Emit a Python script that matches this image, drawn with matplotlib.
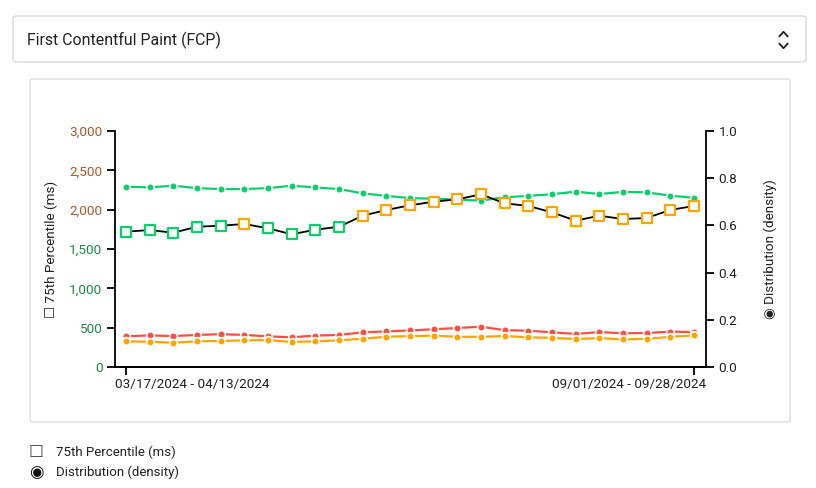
import matplotlib
matplotlib.use("Agg")
from matplotlib import pyplot as plt
from matplotlib.patches import FancyBboxPatch
from matplotlib.lines import Line2D
from matplotlib.transforms import ScaledTranslation

plt.rcParams['font.family'] = ['Roboto', 'DejaVu Sans']

# weekly 28-day windows, 03/17/2024 - 04/13/2024 ... 09/01/2024 - 09/28/2024
periods = ["03/17/2024 - 04/13/2024", "03/24/2024 - 04/20/2024", "03/31/2024 - 04/27/2024",
           "04/07/2024 - 05/04/2024", "04/14/2024 - 05/11/2024", "04/21/2024 - 05/18/2024",
           "04/28/2024 - 05/25/2024", "05/05/2024 - 06/01/2024", "05/12/2024 - 06/08/2024",
           "05/19/2024 - 06/15/2024", "05/26/2024 - 06/22/2024", "06/02/2024 - 06/29/2024",
           "06/09/2024 - 07/06/2024", "06/16/2024 - 07/13/2024", "06/23/2024 - 07/20/2024",
           "06/30/2024 - 07/27/2024", "07/07/2024 - 08/03/2024", "07/14/2024 - 08/10/2024",
           "07/21/2024 - 08/17/2024", "07/28/2024 - 08/24/2024", "08/04/2024 - 08/31/2024",
           "08/11/2024 - 09/07/2024", "08/18/2024 - 09/14/2024", "08/25/2024 - 09/21/2024",
           "09/01/2024 - 09/28/2024"]

p75_ms = [1720, 1741, 1707, 1783, 1796, 1818, 1763, 1687, 1745, 1783, 1923, 1996, 2055,
          2101, 2131, 2195, 2081, 2047, 1966, 1860, 1923, 1881, 1894, 1996, 2047]

good_density = [0.764, 0.761, 0.768, 0.758, 0.754, 0.754, 0.758, 0.768, 0.761, 0.754, 0.736,
                0.725, 0.716, 0.713, 0.709, 0.705, 0.719, 0.725, 0.732, 0.743, 0.733, 0.742,
                0.740, 0.726, 0.717]
red_density = [0.130, 0.134, 0.131, 0.136, 0.139, 0.136, 0.130, 0.126, 0.133, 0.136, 0.147,
               0.151, 0.155, 0.160, 0.165, 0.171, 0.156, 0.154, 0.147, 0.140, 0.148, 0.143,
               0.144, 0.150, 0.148]
orange_density = [0.109, 0.107, 0.103, 0.109, 0.110, 0.113, 0.114, 0.106, 0.109, 0.113, 0.120,
                  0.128, 0.131, 0.133, 0.128, 0.128, 0.131, 0.126, 0.123, 0.119, 0.122, 0.117,
                  0.119, 0.128, 0.134]

good_threshold = 1800
left_ticks = [0, 500, 1000, 1500, 2000, 2500, 3000]

GREEN = '#0cce6b'
ORANGE = '#ffa400'
RED = '#ff4e42'
TXT = '#202124'

fig = plt.figure(figsize=(8.16, 4.88), dpi=100)

# dropdown box and card frame (outline only, behind the axes)
fig.patches.append(FancyBboxPatch((13 / 816, 1 - 62 / 488), 793 / 816, 46 / 488,
                                  boxstyle='round,pad=0,rounding_size=0.005',
                                  transform=fig.transFigure, fc='none', ec='#d9d9d9', lw=1,
                                  zorder=-1))
fig.patches.append(FancyBboxPatch((30 / 816, 1 - 422 / 488), 760 / 816, 343 / 488,
                                  boxstyle='round,pad=0,rounding_size=0.004',
                                  transform=fig.transFigure, fc='none', ec='#dddddd', lw=1,
                                  zorder=-1))
fig.text(27 / 816, 1 - 40 / 488, 'First Contentful Paint (FCP)', fontsize=11.4,
         va='center', ha='left', color=TXT)
# up/down chevron
for y0, d in ((34, 1), (46, -1)):
    fig.lines.append(Line2D([779.5 / 816, 783.5 / 816, 787.5 / 816],
                            [1 - (y0 + 2.2 * d) / 488, 1 - (y0 - 2.2 * d) / 488,
                             1 - (y0 + 2.2 * d) / 488],
                            transform=fig.transFigure, color=TXT, lw=1.3))

ax = fig.add_axes([115 / 816, 1 - 367 / 488, 591 / 816, 236 / 488])
ax2 = ax.twinx()

x = list(range(len(periods)))

# density lines on the right axis
for vals, col in ((good_density, GREEN), (red_density, RED), (orange_density, ORANGE)):
    ax2.plot(x, vals, color=col, lw=1.6, marker='o', ms=5.5, mfc=col,
             mec='white', mew=1.2, zorder=2)
ax2.set_ylim(0, 1.0)

# p75 line on the left axis, squares coloured by threshold
ax.set_zorder(ax2.get_zorder() + 1)
ax.patch.set_visible(False)
ax.plot(x, p75_ms, color='black', lw=1.3, zorder=3)
sq_cols = [GREEN if v < good_threshold else ORANGE for v in p75_ms]
ax.scatter(x, p75_ms, marker='s', s=52, facecolor='white', edgecolor=sq_cols,
           linewidths=1.6, zorder=4)
ax.set_ylim(0, 3000)
ax.set_xlim(-0.465, 24.51)

ax.set_yticks(left_ticks)
ax.set_yticklabels([f'{v:,}' for v in left_ticks], fontsize=9.7)
for lab, v in zip(ax.get_yticklabels(), left_ticks):
    lab.set_color('#a8582a' if v >= 2000 else '#1a8a45')
ax.tick_params(axis='y', length=6, width=1.3, pad=3)

ax.set_xticks([0, len(periods) - 1])
ax.set_xticklabels([periods[0], periods[-1]], fontsize=9.7, color=TXT)
ax.tick_params(axis='x', length=6, width=1.3, pad=2)
xl = ax.get_xticklabels()
xl[0].set_ha('left')
xl[0].set_transform(xl[0].get_transform() + ScaledTranslation(-11 / 100, 0, fig.dpi_scale_trans))
xl[1].set_ha('right')
xl[1].set_transform(xl[1].get_transform() + ScaledTranslation(12 / 100, 0, fig.dpi_scale_trans))

ax2.set_yticks([0, 0.2, 0.4, 0.6, 0.8, 1.0])
ax2.set_yticklabels(['0.0', '0.2', '0.4', '0.6', '0.8', '1.0'], fontsize=9.7, color=TXT)
ax2.tick_params(axis='y', length=6, width=1.3, pad=3)

for a in (ax, ax2):
    a.spines['top'].set_visible(False)
    for s in ('left', 'right', 'bottom'):
        a.spines[s].set_linewidth(1.3)
ax.spines['right'].set_visible(False)
ax2.spines['left'].set_visible(False)

ax.set_ylabel('\u2610 75th Percentile (ms)', fontsize=9.7, color=TXT, labelpad=8,
              family=['Roboto', 'DejaVu Sans'])
ax2.set_ylabel('\u25C9 Distribution (density)', fontsize=9.7, color=TXT, labelpad=19,
               rotation=90, family=['Roboto', 'DejaVu Sans'])

# legend below the card
fig.text(36 / 816, 1 - 452 / 488, '\u2610', fontsize=12, va='center', ha='center',
         family=['DejaVu Sans'], color='#444444')
fig.text(56 / 816, 1 - 452 / 488, '75th Percentile (ms)', fontsize=9.5, va='center', color=TXT)
fig.text(36 / 816, 1 - 472 / 488, '\u25C9', fontsize=12, va='center', ha='center',
         family=['DejaVu Sans'], color='#111111')
fig.text(56 / 816, 1 - 472 / 488, 'Distribution (density)', fontsize=9.5, va='center', color=TXT)

fig.savefig('out.png', dpi=100)
